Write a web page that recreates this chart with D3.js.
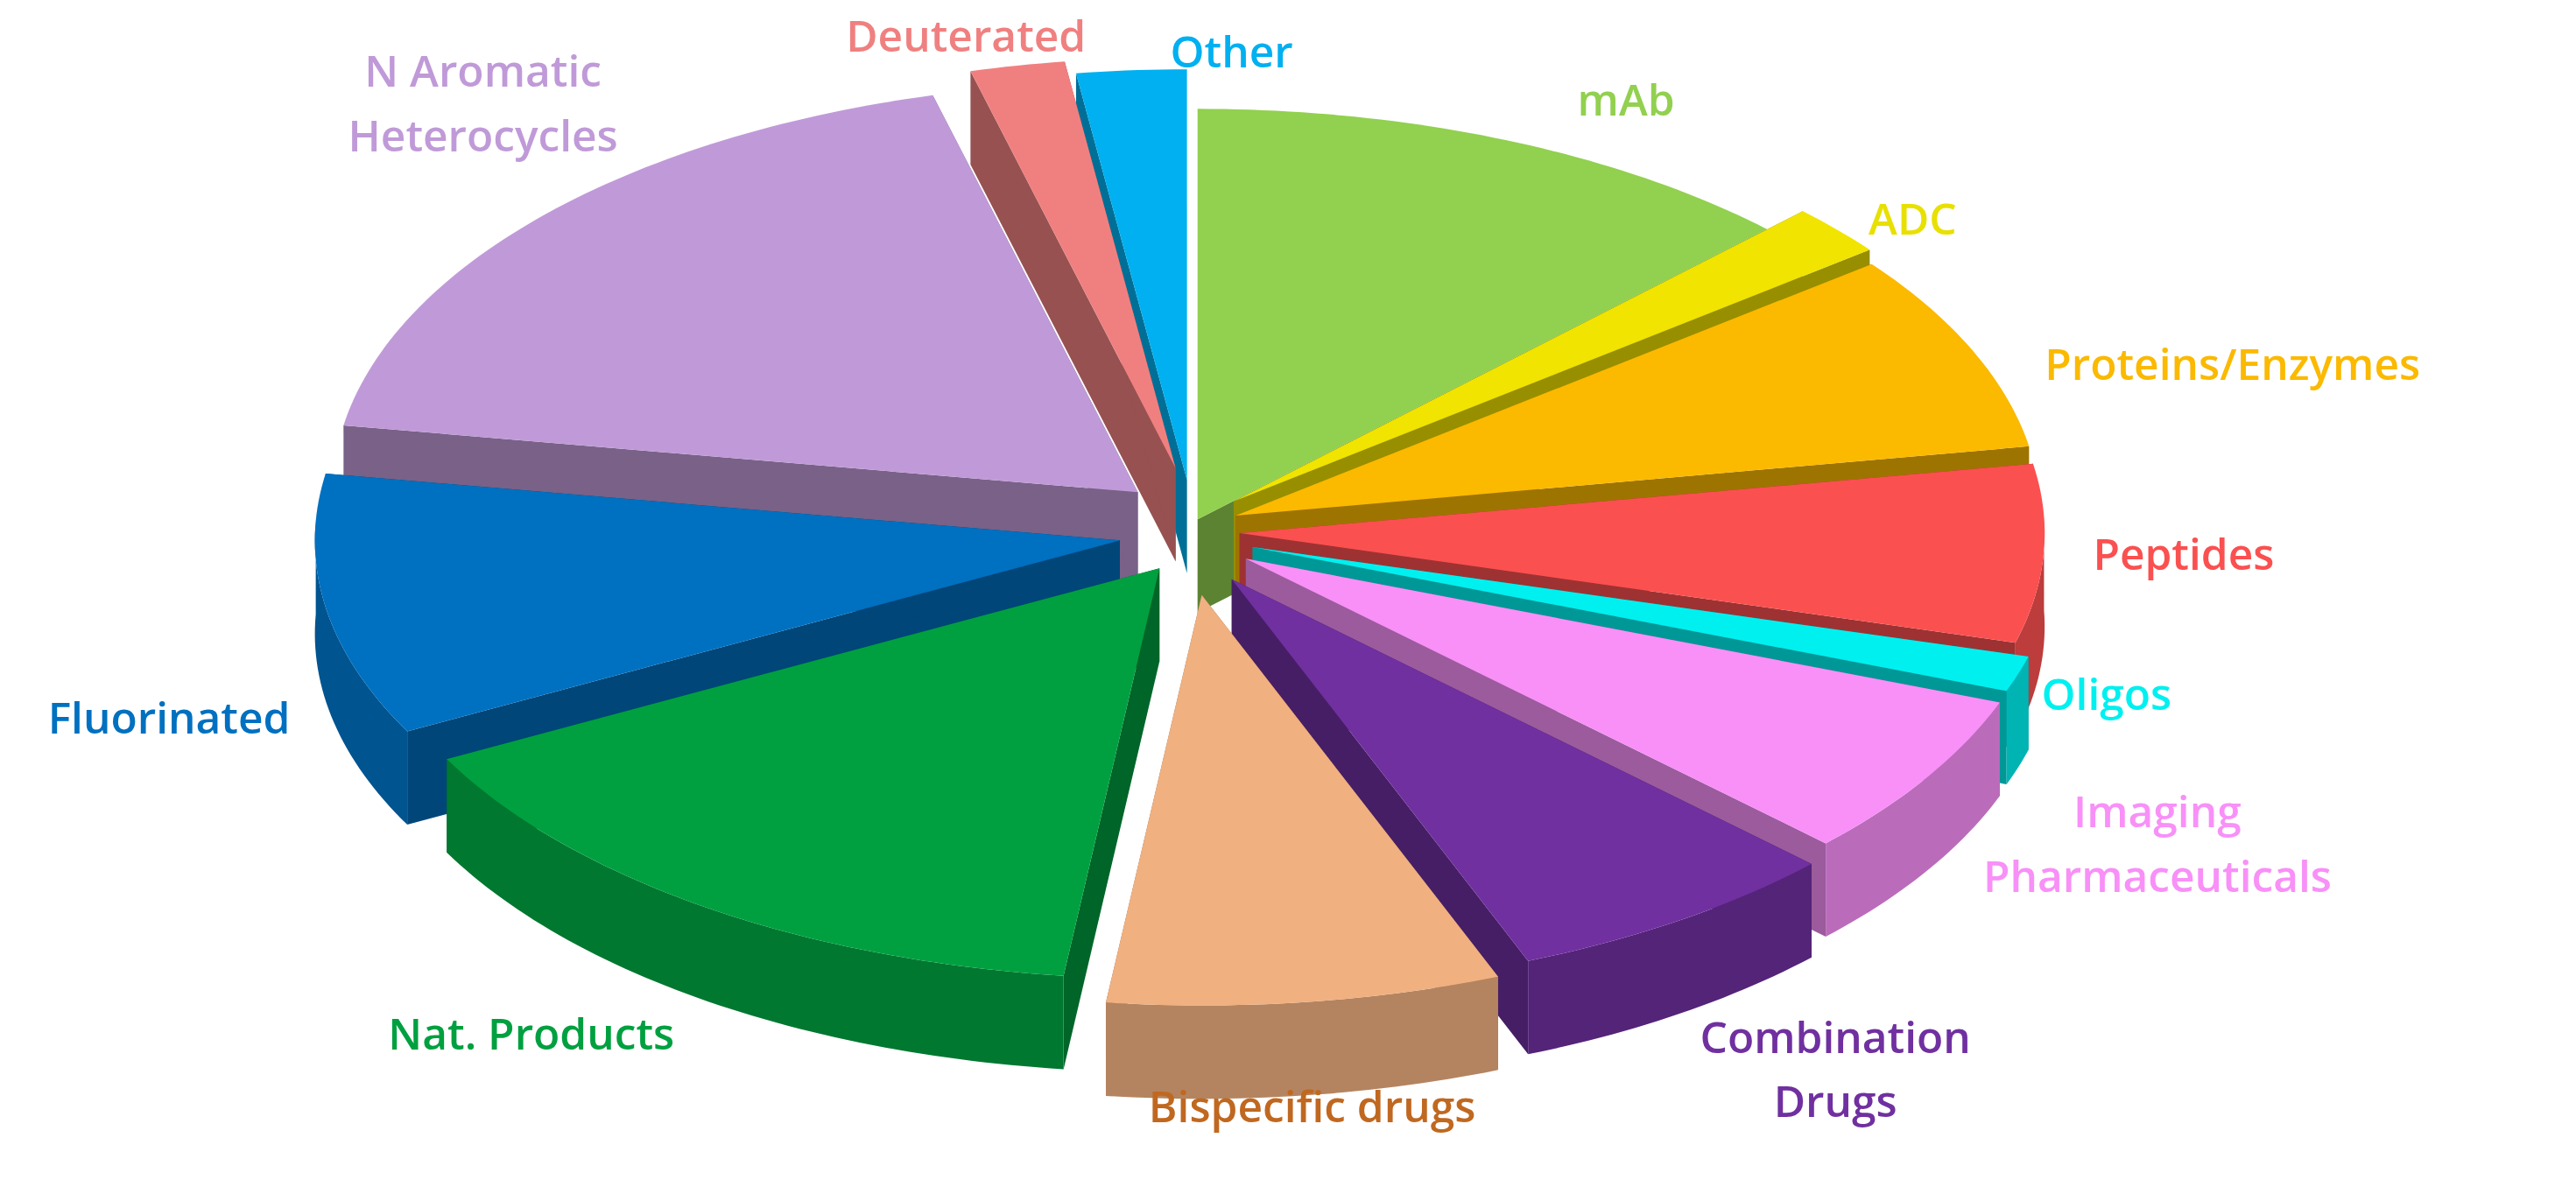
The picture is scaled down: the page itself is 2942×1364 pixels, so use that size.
<!DOCTYPE html>
<html><head><meta charset="utf-8">
<script src="https://cdn.jsdelivr.net/npm/d3@7"></script>
<style>body{margin:0;background:#fff}</style></head>
<body><svg id="c" width="2942" height="1364"></svg>
<script>
const categories = ["mAb","ADC","Proteins/Enzymes","Peptides","Oligos","Imaging Pharmaceuticals","Combination Drugs","Bispecific  drugs","Nat. Products","Fluorinated","N Aromatic Heterocycles","Deuterated","Other"];
const values = [12.5,2.0,7.8,7.0,1.4,6.5,6.8,7.9,15.4,10.3,18.3,1.9,2.2];
const colors = ["#92d050","#f0e400","#fbb900","#fb5050","#00f0f0","#f890f8","#7030a0","#f0b080","#00a040","#0070c0","#c09ad8","#f08080","#00b0f0"];
const labelColors = ["#92d050","#e8e000","#fbb900","#fb5050","#00f0f0","#f890f8","#7030a0","#c06820","#00a040","#0070c0","#c09ad8","#f08080","#00b0f0"];
const labelLines = [["mAb"],["ADC"],["Proteins/Enzymes"],["Peptides"],["Oligos"],["Imaging","Pharmaceuticals"],["Combination","Drugs"],["Bispecific  drugs"],["Nat. Products"],["Fluorinated"],["N Aromatic","Heterocycles"],["Deuterated"],["Other"]];
// layout (not data)
const labelPos = [[1010,72],[1188,146],[1270,236],[1300,354],[1268,441],[1340,514],[1140,654],[815,697],[330,652],[105,456],[300,54],[600,32],[765,42]];
const labelAnchor = ["middle","middle","start","start","start","middle","middle","middle","middle","middle","middle","middle","middle"];
const explode = [10,35,30,30,40,40,45,50,35,45,45,50,40];

const s = 2942/1600;
const svg = d3.select("#c").append("g").attr("transform",`scale(${s})`);
const cx=740, cy=330, rx=500, ry=255, depth=58;
const pie = d3.pie().sort(null).value(d=>d)(values);
function P(a,r,ox,oy,z){return [cx+ox+r*rx*Math.sin(a), cy+oy-r*ry*Math.cos(a)+z];}
const line = d3.line();
const slices = pie.map((p,i)=>{
  const mid=(p.startAngle+p.endAngle)/2;
  const ox=explode[i]*Math.sin(mid), oy=-explode[i]*Math.cos(mid)*0.8;
  return {p,i,mid,ox,oy,depthKey:-Math.cos(mid)};
});
slices.sort((a,b)=>a.depthKey-b.depthKey);
slices.forEach(({p,i,ox,oy})=>{
  const g=svg.append("g");
  const c=d3.color(colors[i]);
  const side=c.darker(1.3).toString(), side2=c.darker(0.8).toString();
  const n=Math.max(4,Math.ceil((p.endAngle-p.startAngle)*60));
  const arcTop=[],arcBot=[];
  for(let k=0;k<=n;k++){const a=p.startAngle+(p.endAngle-p.startAngle)*k/n;arcTop.push(P(a,1,ox,oy,0));arcBot.push(P(a,1,ox,oy,depth));}
  const c0=P(0,0,ox,oy,0), c1=P(0,0,ox,oy,depth);
  [p.startAngle,p.endAngle].forEach(a=>{
    const e0=P(a,1,ox,oy,0),e1=P(a,1,ox,oy,depth);
    g.append("path").attr("d",line([c0,e0,e1,c1])+"Z").attr("fill",side);
  });
  const wall=[];
  for(let k=0;k<=n;k++){const a=p.startAngle+(p.endAngle-p.startAngle)*k/n; if(Math.cos(a)<0.05) wall.push(k);}
  if(wall.length>1){
    const pts=wall.map(k=>arcTop[k]).concat(wall.slice().reverse().map(k=>arcBot[k]));
    g.append("path").attr("d",line(pts)+"Z").attr("fill",side2);
  }
  g.append("path").attr("d",line([c0,...arcTop])+"Z").attr("fill",colors[i]);
});
labelLines.forEach((ls,i)=>{
  const t=svg.append("text").attr("x",labelPos[i][0]).attr("y",labelPos[i][1])
    .attr("text-anchor",labelAnchor[i]).attr("fill",labelColors[i])
    .attr("font-family","Open Sans, sans-serif").attr("font-size",27).attr("font-weight",600);
  ls.forEach((l,j)=>t.append("tspan").attr("x",labelPos[i][0]).attr("dy",j?40:0).text(l));
});
</script></body></html>
